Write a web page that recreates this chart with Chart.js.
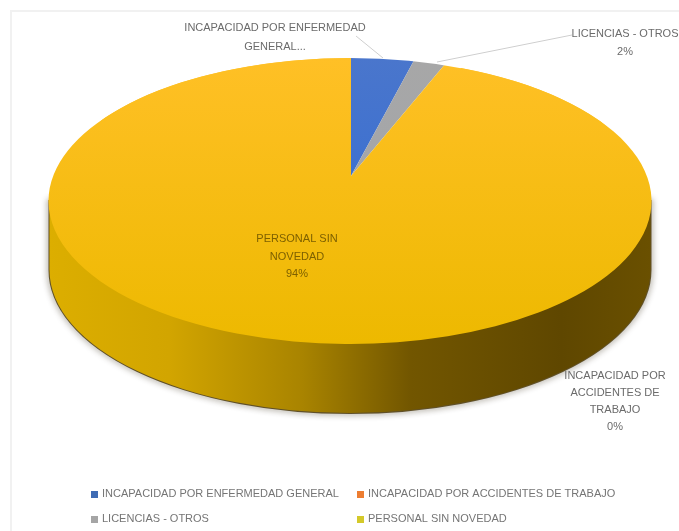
<!DOCTYPE html>
<html>
<head>
<meta charset="utf-8">
<title>Personal</title>
<style>
  html, body { margin: 0; padding: 0; background: #fff; }
  #wrap { position: relative; width: 679px; height: 531px; overflow: hidden; }
  #frame { position: absolute; left: 10px; top: 10px; right: -4px; bottom: -4px; border: 2px solid #f1f1f1; }
  #chart { position: absolute; left: 0; top: 0; }
</style>
<script src="https://cdn.jsdelivr.net/npm/chart.js@4/dist/chart.umd.min.js"></script>
</head>
<body>
<div id="wrap">
  <div id="frame"></div>
  <canvas id="chart" width="679" height="531"></canvas>
</div>
<script>
  const categories = [
    "INCAPACIDAD POR ENFERMEDAD GENERAL",
    "INCAPACIDAD POR ACCIDENTES DE TRABAJO",
    "LICENCIAS - OTROS",
    "PERSONAL SIN NOVEDAD",
  ];
  const percentages = [4, 0, 2, 94];
  const faceTop = ["#4a76cc", "#ed7d31", "#a7a7a7", "#ffc026"];
  const faceBottom = ["#2c6ad6", "#ed7d31", "#a0a4ac", "#edb900"];
  const legendSwatches = ["#3f6cb4", "#ed7d31", "#a5a5a5", "#d4c92a"];

  // Wrapped label text, one entry per slice
  const labelLines = [
    ["INCAPACIDAD POR ENFERMEDAD", "GENERAL..."],
    ["INCAPACIDAD POR", "ACCIDENTES DE", "TRABAJO", percentages[1] + "%"],
    ["LICENCIAS - OTROS", percentages[2] + "%"],
    ["PERSONAL SIN", "NOVEDAD", percentages[3] + "%"],
  ];

  const labelFont = '11px "Liberation Sans", sans-serif';

  // Ellipse of the pie's top face, and how far the wall drops below it
  const disc = { x: 350, y: 201, rx: 301.5, ry: 143, depth: 69 };
  // Slices meet behind the ellipse centre, and the far side is foreshortened
  const apex = { x: 351, y: 176, rx: 276, ry: 130 };

  // Draws one slice squashed onto an ellipse, shaded top to bottom in page coordinates
  function drawSlice(ctx, arc, i, target) {
    const r = arc.outerRadius;
    const toChartY = (y) => arc.y + ((y - target.y) * r) / target.ry;
    const grad = ctx.createLinearGradient(
      0,
      toChartY(disc.y - disc.ry),
      0,
      toChartY(disc.y + disc.ry)
    );
    grad.addColorStop(0, faceTop[i]);
    grad.addColorStop(1, faceBottom[i]);
    arc.options = Object.assign({}, arc.options, { backgroundColor: grad });

    ctx.save();
    ctx.translate(target.x, target.y);
    ctx.scale(target.rx / r, target.ry / r);
    ctx.translate(-arc.x, -arc.y);
    arc.draw(ctx);
    ctx.restore();
  }

  function drawWall(ctx) {
    const grad = ctx.createLinearGradient(disc.x - disc.rx, 0, disc.x + disc.rx, 0);
    grad.addColorStop(0, "#dcae00");
    grad.addColorStop(0.2, "#d2a500");
    grad.addColorStop(0.42, "#a98400");
    grad.addColorStop(0.6, "#725600");
    grad.addColorStop(0.85, "#5f4700");
    grad.addColorStop(1, "#6a5000");

    ctx.save();
    ctx.beginPath();
    ctx.ellipse(disc.x, disc.y + disc.depth, disc.rx - 1, disc.ry, 0, 0, Math.PI);
    ctx.lineTo(disc.x - disc.rx + 1, disc.y);
    ctx.lineTo(disc.x + disc.rx - 1, disc.y);
    ctx.closePath();

    // Soft dark rim under the wall
    ctx.shadowColor = "rgba(40, 28, 0, 1)";
    ctx.shadowBlur = 6;
    ctx.strokeStyle = "rgba(75, 58, 10, 0.85)";
    ctx.lineWidth = 2;
    ctx.stroke();
    ctx.shadowColor = "transparent";

    ctx.fillStyle = grad;
    ctx.fill();
    ctx.restore();
  }

  const pie3d = {
    id: "pie3d",
    beforeDatasetsDraw(chart) {
      const ctx = chart.ctx;
      const arcs = chart.getDatasetMeta(0).data;

      drawWall(ctx);
      drawSlice(ctx, arcs[arcs.length - 1], arcs.length - 1, disc);

      // Everything around the apex stays inside the face ellipse
      ctx.save();
      ctx.beginPath();
      ctx.ellipse(disc.x, disc.y, disc.rx, disc.ry, 0, 0, Math.PI * 2);
      ctx.clip();
      arcs.forEach((arc, i) => drawSlice(ctx, arc, i, apex));
      ctx.restore();
      return false;
    },
    afterDraw(chart) {
      const ctx = chart.ctx;
      ctx.save();

      // Leader lines
      ctx.strokeStyle = "#cfcfcf";
      ctx.lineWidth = 1;
      ctx.beginPath();
      ctx.moveTo(356, 36);
      ctx.lineTo(383, 58);
      ctx.moveTo(572, 35);
      ctx.lineTo(437, 62);
      ctx.stroke();

      // Slice labels
      const labelAnchors = [
        { x: 275, y: 28, gap: 19, color: "#6b6b6b" },
        { x: 615, y: 376, gap: 17, color: "#6b6b6b" },
        { x: 625, y: 34, gap: 18, color: "#6b6b6b" },
        { x: 297, y: 239, gap: 17.5, color: "#7d6000" },
      ];
      ctx.font = labelFont;
      ctx.textAlign = "center";
      ctx.textBaseline = "middle";
      labelLines.forEach((lines, i) => {
        const a = labelAnchors[i];
        ctx.fillStyle = a.color;
        lines.forEach((line, j) => {
          ctx.fillText(line, a.x, a.y + j * a.gap);
        });
      });

      // Legend, two columns over two rows
      const legendAnchors = [
        { x: 91, y: 494 },
        { x: 357, y: 494 },
        { x: 91, y: 519 },
        { x: 357, y: 519 },
      ];
      ctx.textAlign = "left";
      categories.forEach((name, i) => {
        const a = legendAnchors[i];
        ctx.fillStyle = legendSwatches[i];
        ctx.fillRect(a.x, a.y - 3, 7, 7);
        ctx.fillStyle = "#757575";
        ctx.fillText(name, a.x + 11, a.y);
      });
      ctx.restore();
    },
  };

  new Chart(document.getElementById("chart"), {
    type: "pie",
    data: {
      labels: categories,
      datasets: [
        {
          data: percentages,
          backgroundColor: faceBottom,
          borderWidth: 0,
        },
      ],
    },
    options: {
      responsive: false,
      animation: false,
      plugins: {
        legend: { display: false },
        tooltip: { enabled: false },
      },
    },
    plugins: [pie3d],
  });
</script>
</body>
</html>
